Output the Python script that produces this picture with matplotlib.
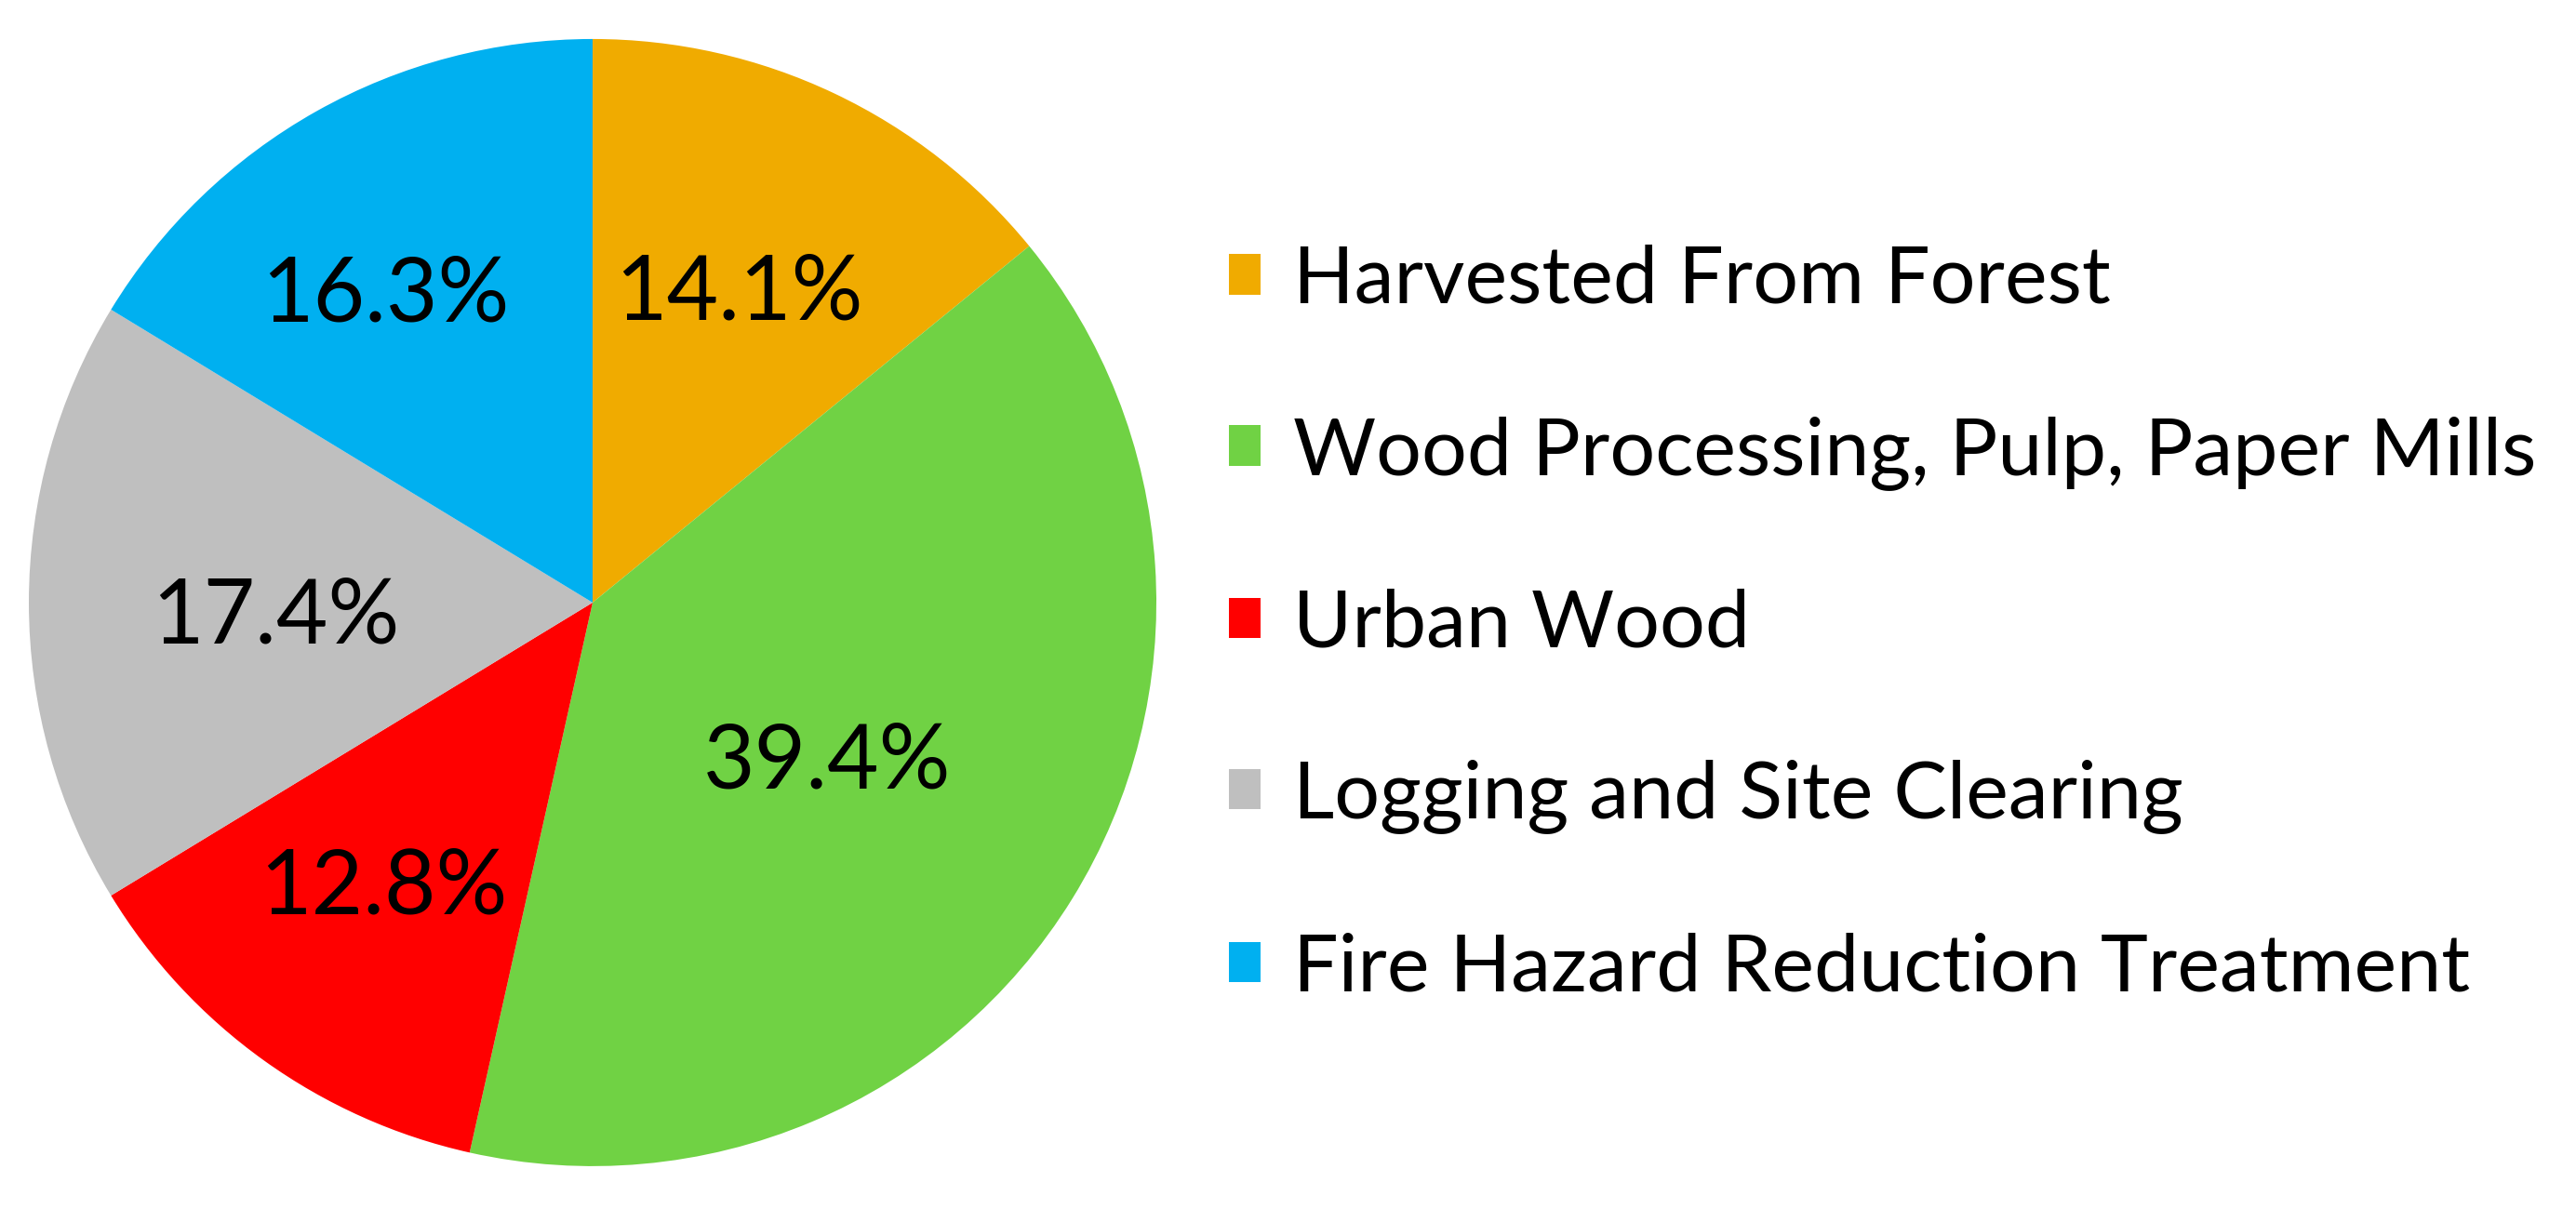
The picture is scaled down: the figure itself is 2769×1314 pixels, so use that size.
import matplotlib
matplotlib.use("Agg")
import matplotlib.pyplot as plt
import numpy as np

categories = [
    "Harvested From Forest",
    "Wood Processing, Pulp, Paper Mills",
    "Urban Wood",
    "Logging and Site Clearing",
    "Fire Hazard Reduction Treatment",
]
shares = [14.1, 39.4, 12.8, 17.4, 16.3]
colors = ["#F0AB00", "#70D244", "#FF0000", "#BFBFBF", "#00B0F0"]
# percent label placement: radius fraction and angle shift from the bisector
label_dist = [0.605, 0.505, 0.628, 0.563, 0.657]
label_shift = [0.0, -2.7, -0.5, 2.7, 4.7]

plt.rcParams["font.family"] = ["Lato", "DejaVu Sans"]

fig = plt.figure(figsize=(27.69, 13.14), dpi=100)
ax = fig.add_axes([0.0112, 0.0457, 0.4377, 0.9224])

wedges, texts, autotexts = ax.pie(
    shares,
    colors=colors,
    startangle=90,
    counterclock=False,
    autopct="%.1f%%",
    pctdistance=0.6,
    textprops={"fontsize": 69, "color": "black"},
    wedgeprops={"linewidth": 0},
)

for w, t, d, s in zip(wedges, autotexts, label_dist, label_shift):
    ang = np.deg2rad((w.theta1 + w.theta2) / 2 + s)
    t.set_position((d * np.cos(ang), d * np.sin(ang)))

ax.set_xlim(-1, 1)
ax.set_ylim(-1, 1)
ax.set_aspect("equal")

fig.legend(
    wedges,
    categories,
    loc="center left",
    bbox_to_anchor=(0.449, 0.489),
    frameon=False,
    fontsize=62,
    handlelength=0.4,
    handleheight=0.4,
    handletextpad=0.4,
    labelspacing=1.23,
)

fig.savefig("out.png", dpi=100)
